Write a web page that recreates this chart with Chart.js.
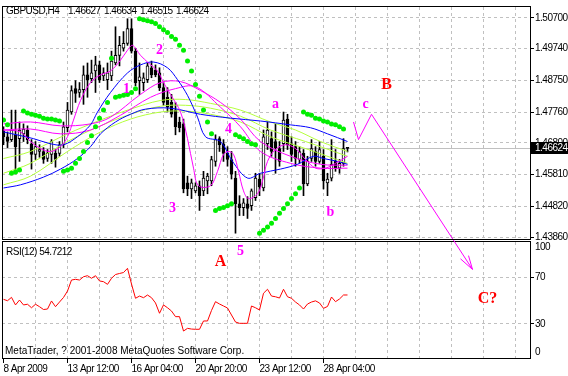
<!DOCTYPE html>
<html>
<head>
<meta charset="utf-8">
<script src="https://cdn.jsdelivr.net/npm/chart.js@4.4.1/dist/chart.umd.min.js"></script>
<style>
  html, body { margin: 0; padding: 0; background: #fff; }
  #wrap { position: relative; width: 568px; height: 376px; overflow: hidden; }
  canvas { position: absolute; left: 0; top: 0; }
</style>
</head>
<body>
<div id="wrap">
  <canvas id="rsiChart" width="568" height="376"></canvas>
  <canvas id="priceChart" width="568" height="376"></canvas>
</div>
<script>
// GBPUSD H4, one value per bar (bar 0 = 8 Apr 2009 20:00)
const symbolTitle = 'GBPUSD,H4';
const lastQuote = [1.46627, 1.46634, 1.46515, 1.46624];

const opens = [
  1.4717,1.4699,1.4690,1.4705,1.4693,1.4708,1.4720,1.4677,1.4644,1.4653,
  1.4653,1.4631,1.4644,1.4647,1.4647,1.4674,1.4727,1.4776,1.4849,1.4837,
  1.4846,1.4892,1.4880,1.4904,1.4923,1.4889,1.4877,1.4889,1.4929,1.4953,
  1.4975,1.4990,1.5036,1.4966,1.4874,1.4868,1.4877,1.4914,1.4907,1.4898,
  1.4852,1.4822,1.4806,1.4782,1.4745,1.4739,1.4555,1.4536,1.4530,1.4546,
  1.4530,1.4561,1.4561,1.4622,1.4693,1.4677,1.4647,1.4628,1.4570,1.4490,
  1.4478,1.4490,1.4484,1.4509,1.4567,1.4539,1.4677,1.4693,1.4684,1.4662,
  1.4677,1.4754,1.4677,1.4668,1.4628,1.4647,1.4552,1.4631,1.4653,1.4622,
  1.4638,1.4555,1.4570,1.4622,1.4601,1.4616,1.46627
];
const highs = [
  1.4730,1.4714,1.4782,1.4782,1.4745,1.4739,1.4733,1.4690,1.4684,1.4674,
  1.4665,1.4659,1.4690,1.4659,1.4684,1.4745,1.4806,1.4858,1.4874,1.4868,
  1.4920,1.4929,1.4938,1.4950,1.4935,1.4914,1.4929,1.4966,1.5042,1.5012,
  1.5027,1.5067,1.5067,1.4975,1.4929,1.4898,1.4929,1.4935,1.4923,1.4914,
  1.4868,1.4852,1.4831,1.4806,1.4760,1.4754,1.4576,1.4567,1.4555,1.4561,
  1.4591,1.4585,1.4638,1.4705,1.4699,1.4690,1.4668,1.4653,1.4591,1.4515,
  1.4506,1.4512,1.4536,1.4585,1.4585,1.4720,1.4745,1.4714,1.4739,1.4684,
  1.4776,1.4769,1.4699,1.4684,1.4668,1.4659,1.4638,1.4690,1.4668,1.4684,
  1.4659,1.4585,1.4690,1.4659,1.4628,1.4693,1.46634
];
const lows = [
  1.4674,1.4665,1.4684,1.4585,1.4622,1.4684,1.4677,1.4598,1.4628,1.4635,
  1.4616,1.4622,1.4616,1.4604,1.4638,1.4665,1.4714,1.4769,1.4806,1.4822,
  1.4800,1.4822,1.4868,1.4837,1.4868,1.4874,1.4846,1.4874,1.4923,1.4920,
  1.4966,1.4984,1.4960,1.4858,1.4831,1.4843,1.4868,1.4883,1.4886,1.4843,
  1.4797,1.4776,1.4760,1.4705,1.4714,1.4524,1.4515,1.4506,1.4524,1.4469,
  1.4515,1.4521,1.4546,1.4607,1.4653,1.4622,1.4607,1.4567,1.4398,1.4453,
  1.4453,1.4444,1.4469,1.4500,1.4515,1.4530,1.4659,1.4638,1.4585,1.4607,
  1.4653,1.4659,1.4622,1.4607,1.4616,1.4515,1.4546,1.4622,1.4607,1.4616,
  1.4536,1.4515,1.4561,1.4591,1.4585,1.4607,1.46515
];
const closes = [
  1.4699,1.4684,1.4720,1.4668,1.4720,1.4723,1.4690,1.4644,1.4668,1.4659,
  1.4628,1.4647,1.4684,1.4628,1.4674,1.4730,1.4782,1.4843,1.4834,1.4846,
  1.4892,1.4877,1.4898,1.4923,1.4877,1.4898,1.4898,1.4935,1.4953,1.4984,
  1.4990,1.5036,1.4966,1.4868,1.4886,1.4883,1.4920,1.4892,1.4892,1.4852,
  1.4806,1.4791,1.4769,1.4730,1.4727,1.4536,1.4536,1.4555,1.4546,1.4515,
  1.4570,1.4576,1.4628,1.4690,1.4674,1.4647,1.4628,1.4582,1.4490,1.4478,
  1.4493,1.4475,1.4530,1.4570,1.4542,1.4699,1.4720,1.4653,1.4665,1.4622,
  1.4751,1.4674,1.4644,1.4631,1.4653,1.4552,1.4622,1.4662,1.4622,1.4659,
  1.4561,1.4567,1.4613,1.4601,1.4616,1.4662,1.46624
];
const parabolicSar = [
  1.4751,1.4736,1.4585,1.4589,1.4595,1.4779,1.4773,1.4769,1.4766,1.4763,
  1.4757,1.4754,1.4754,1.4751,1.4748,1.4591,1.4595,1.4601,1.4616,1.4631,
  1.4653,1.4681,1.4702,1.4730,1.4757,1.4782,1.4806,1.4944,1.4822,1.4825,
  1.4828,1.4831,1.4837,1.4849,1.5067,1.5064,1.5061,1.5058,1.5052,1.5042,
  1.5033,1.5024,1.5012,1.5003,1.4984,1.4969,1.4935,1.4904,1.4862,1.4825,
  1.4782,1.4745,1.4708,1.4469,1.4475,1.4478,1.4484,1.4490,1.4705,1.4699,
  1.4693,1.4684,1.4677,1.4674,1.4398,1.4407,1.4417,1.4429,1.4444,1.4460,
  1.4475,1.4490,1.4506,1.4521,1.4539,1.4776,1.4769,1.4766,1.4757,1.4754,
  1.4748,1.4745,1.4739,1.4736,1.4730,1.4723,null
];
const rsi12 = [
  51.0,49.8,52.7,46.2,50.4,46.2,46.8,43.8,46.8,44.7,
  42.3,42.7,49.6,44.7,48.7,52.6,58.1,67.5,68.1,67.5,
  70.3,71.2,69.0,71.2,66.7,66.1,63.8,69.0,72.2,73.1,
  73.9,77.5,64.1,51.9,53.8,52.4,54.7,52.4,47.9,39.1,
  46.2,43.8,41.0,36.2,36.2,23.9,26.2,25.6,25.4,25.4,
  32.5,32.5,41.5,49.0,47.0,45.3,43.6,37.6,31.6,30.5,
  30.5,30.5,45.3,43.8,41.9,56.2,59.6,53.8,53.2,52.1,
  59.6,53.2,51.9,48.7,46.2,42.7,47.0,48.7,49.7,47.9,
  43.3,44.9,53.0,49.0,51.3,54.7,54.7212
];

// moving averages: [bar, price]
const maFastMagenta = [[0,1.4720],[4.25,1.4714],[6.75,1.4684],[9.25,1.4662],[11.75,1.4653],[14.25,1.4668],[16,1.4699],[17.5,1.4751],[19.25,1.4812],[21.75,1.4868],[24.25,1.4892],[26.75,1.4904],[29.25,1.4938],[31,1.4969],[32.25,1.4984],[34.25,1.4953],[36.25,1.4929],[38.5,1.4904],[40,1.4868],[41.75,1.4831],[44.25,1.4776],[46,1.4693],[47.5,1.4601],[48.75,1.4546],[51.75,1.4546],[53.5,1.4591],[55,1.4644],[56.25,1.4653],[57.5,1.4644],[58.75,1.4591],[60,1.4530],[61.25,1.4506],[63.5,1.4521],[64.75,1.4561],[66,1.4622],[68,1.4659],[70.5,1.4674],[73,1.4662],[75.5,1.4628],[78,1.4601],[80.5,1.4601],[83,1.4616],[86,1.4638]];
const maFastBlue = [[0,1.4714],[7.5,1.4693],[11.75,1.4677],[15,1.4674],[18.5,1.4699],[21.75,1.4736],[23.5,1.4776],[26.75,1.4837],[31,1.4898],[34.25,1.4923],[37.5,1.4932],[41,1.4914],[43.5,1.4877],[46,1.4828],[48.5,1.4760],[50.5,1.4699],[54.25,1.4684],[57.25,1.4622],[61,1.4570],[64.25,1.4585],[69.25,1.4598],[73.5,1.4613],[77.5,1.4638],[80,1.4631],[83.5,1.4622],[86,1.4613]];
const maSlowBlue = [[0,1.4539],[4.25,1.4549],[10,1.4573],[14.25,1.4598],[18.5,1.4631],[21.75,1.4668],[24.25,1.4708],[28,1.4745],[31.75,1.4769],[35.5,1.4785],[41.75,1.4788],[49.25,1.4769],[56.75,1.4757],[64.25,1.4748],[71.75,1.4736],[76.75,1.4727],[81,1.4708],[86,1.4684]];
const maSlowMagenta1 = [[0,1.4739],[6.75,1.4745],[14.25,1.4733],[21.75,1.4739],[26.75,1.4760],[34.25,1.4831],[39.25,1.4868],[44.25,1.4871],[49.25,1.4843],[54.25,1.4806],[59.25,1.4754],[64.25,1.4684],[71.75,1.4638],[79.25,1.4613],[86,1.4610]];
const maSlowMagenta2 = [[0,1.4720],[6.75,1.4723],[14.25,1.4708],[21.75,1.4720],[29.25,1.4766],[36.75,1.4822],[43,1.4849],[48,1.4855],[54.25,1.4791],[59.25,1.4730],[64.25,1.4653],[71.75,1.4616],[79.25,1.4601],[86,1.4601]];
const maLime1 = [[0,1.4631],[6.75,1.4653],[16,1.4708],[24.25,1.4751],[31.75,1.4785],[39.25,1.4812],[45.5,1.4815],[51.75,1.4803],[59.25,1.4782],[66.75,1.4745],[73,1.4720],[79.25,1.4684],[86,1.4653]];
const maLime2 = [[0,1.4585],[6.75,1.4616],[16,1.4684],[24.25,1.4733],[31.75,1.4769],[39.25,1.4794],[45.5,1.4797],[51.75,1.4788],[59.25,1.4763],[66.75,1.4720],[75.5,1.4684],[86,1.4638]];
const maLime3 = [[0,1.4549],[6.75,1.4576],[16,1.4653],[24.25,1.4714],[31.75,1.4754],[39.25,1.4776],[45.5,1.4779],[51.75,1.4769],[59.25,1.4745],[66.75,1.4699],[75.5,1.4662],[86,1.4616]];

// hand-drawn wave projection: [bar, price]
const zigzag = [[87.5,1.4745],[88.75,1.4690],[92,1.4769],[117.25,1.4285]];
const arrowHead = [[114.25,1.4318],[117.25,1.4285],[116.25,1.4328]];
const waveCounts = [['1',30.75,1.4846],['2',39,1.4969],['3',42.25,1.4475],['4',56.25,1.4723],['5',59.25,1.4340],['a',68,1.4800],['b',81.75,1.4463],['c',90.5,1.4800]];
const waveDegree = [['A',54.25,1.4309],['B',95.75,1.4862],['C?',121,1.4193]];

const priceTicks = [1.50700, 1.49740, 1.48750, 1.47760, 1.46800, 1.45810, 1.44820, 1.43860];
const rsiTicks = [30, 70];
const timeTickBars = [0, 16, 32, 48, 64, 80];
const timeTickText = ['8 Apr 2009', '13 Apr 12:00', '16 Apr 04:00', '20 Apr 20:00', '23 Apr 12:00', '28 Apr 04:00'];

const FONT = "'Liberation Sans', Arial, sans-serif";
const GRID = '#c0c0c0';
const TIGHT = '-0.5px';

const bars = closes.map((c, i) => i);
const pts = arr => arr.map(p => ({x: p[0], y: p[1]}));
const maLine = (arr, color, order) => ({
  type: 'line', data: pts(arr), borderColor: color, borderWidth: 1,
  pointRadius: 0, tension: 0.35, order
});

const xScale = (showLabels) => ({
  type: 'linear', min: -0.375, max: 131.625, offset: false,
  afterBuildTicks: s => { s.ticks = []; for (let v = 0; v <= 128; v += 8) s.ticks.push({value: v}); },
  afterFit: showLabels ? (s => { s.height = 17; }) : (s => { s.height = 0; }),
  ticks: {
    display: showLabels, autoSkip: false, maxRotation: 0, minRotation: 0, align: 'start', padding: 0,
    color: '#000', font: {family: FONT, size: 10},
    callback: v => { const k = timeTickBars.indexOf(v); return k >= 0 ? timeTickText[k] : ''; }
  },
  grid: {
    offset: false,
    color: c => (c.tick && c.tick.value === 0) ? 'rgba(0,0,0,0)' : GRID,
    drawTicks: showLabels, tickLength: 4, tickWidth: 1,
    tickColor: c => (c.tick && timeTickBars.indexOf(c.tick.value) >= 0) ? '#000' : 'rgba(0,0,0,0)'
  },
  border: {display: false, dash: [3, 3]}
});

// narrow the axis text a little, like the terminal font
const tightText = {
  id: 'tightText',
  beforeDraw(chart) { chart.ctx.letterSpacing = TIGHT; }
};

const priceDecor = {
  id: 'priceDecor',
  beforeDatasetsDraw(chart) {
    const {ctx, chartArea: a, scales: {y}} = chart;
    const py = Math.round(y.getPixelForValue(lastQuote[3])) + 0.5;
    ctx.save();
    ctx.strokeStyle = GRID; ctx.lineWidth = 1;
    ctx.beginPath(); ctx.moveTo(a.left, py); ctx.lineTo(a.right, py); ctx.stroke();
    ctx.restore();
  },
  afterDraw(chart) {
    const {ctx, chartArea: a, scales: {x, y}} = chart;
    ctx.save();
    ctx.strokeStyle = '#000'; ctx.lineWidth = 1;
    ctx.strokeRect(a.left + 0.5, a.top - 0.5, a.right - a.left, a.bottom - a.top + 1);

    ctx.letterSpacing = TIGHT;
    ctx.fillStyle = '#000'; ctx.textBaseline = 'middle'; ctx.textAlign = 'left';
    ctx.font = '10px ' + FONT;
    ctx.fillText(symbolTitle, 6, 11);
    lastQuote.forEach((v, k) => ctx.fillText(v.toFixed(5), 68 + k * 36, 11));

    // current price marker on the axis
    const py = Math.round(y.getPixelForValue(lastQuote[3]));
    ctx.fillRect(a.right + 1, py - 6, 37, 12);
    ctx.fillStyle = '#fff';
    ctx.fillText(lastQuote[3].toFixed(5), a.right + 5, py);

    ctx.letterSpacing = '0px';
    ctx.textAlign = 'center';
    ctx.fillStyle = '#ff00ff';
    ctx.font = 'bold 14px "Liberation Serif", serif';
    waveCounts.forEach(w => ctx.fillText(w[0], x.getPixelForValue(w[1]), y.getPixelForValue(w[2])));
    ctx.fillStyle = '#ff0000';
    ctx.font = 'bold 16px "Liberation Serif", serif';
    waveDegree.forEach(w => ctx.fillText(w[0], x.getPixelForValue(w[1]), y.getPixelForValue(w[2])));
    ctx.restore();
  }
};

const rsiDecor = {
  id: 'rsiDecor',
  afterDraw(chart) {
    const {ctx, chartArea: a} = chart;
    ctx.save();
    ctx.strokeStyle = '#000'; ctx.lineWidth = 1;
    ctx.strokeRect(a.left + 0.5, a.top - 0.5, a.right - a.left, a.bottom - a.top);
    ctx.fillStyle = '#000'; ctx.textBaseline = 'middle'; ctx.textAlign = 'left';
    ctx.font = '10px ' + FONT;
    ctx.letterSpacing = TIGHT;
    ctx.fillText('RSI(12) ' + rsi12[rsi12.length - 1].toFixed(4), 6, a.top + 10);
    ctx.fillText('100', a.right + 5, a.top + 5);
    ctx.fillText('0', a.right + 5, a.bottom - 7);
    ctx.letterSpacing = '0px';
    ctx.fillText('MetaTrader, ? 2001-2008 MetaQuotes Software Corp.', 5, a.bottom - 8);
    ctx.restore();
  }
};

new Chart(document.getElementById('rsiChart'), {
  type: 'line',
  data: {
    datasets: [{
      data: rsi12.map((v, i) => ({x: i, y: v})),
      borderColor: '#ff0000', borderWidth: 1, pointRadius: 0, tension: 0
    }]
  },
  options: {
    responsive: false, animation: false, devicePixelRatio: 1,
    layout: {padding: {left: 2, top: 242, right: 0, bottom: 0}, autoPadding: false},
    plugins: {legend: {display: false}, tooltip: {enabled: false}},
    scales: {
      x: xScale(true),
      y: {
        position: 'right', min: 0, max: 100,
        afterBuildTicks: s => { s.ticks = rsiTicks.map(v => ({value: v})); },
        afterFit: s => { s.width = 38; },
        ticks: {color: '#000', padding: 1, font: {family: FONT, size: 10}},
        grid: {color: GRID, tickColor: '#000', tickLength: 4},
        border: {display: false, dash: [3, 3]}
      }
    }
  },
  plugins: [tightText, rsiDecor]
});

new Chart(document.getElementById('priceChart'), {
  type: 'bar',
  data: {
    datasets: [
      {type: 'line', data: pts(zigzag), borderColor: '#ff00ff', borderWidth: 1, pointRadius: 0, tension: 0, clip: false, order: 0},
      {type: 'line', data: pts(arrowHead), borderColor: '#ff00ff', borderWidth: 1, pointRadius: 0, tension: 0, clip: false, order: 0},
      {type: 'line', data: parabolicSar.map((v, i) => ({x: i, y: v})), showLine: false,
       pointRadius: 2.5, pointBackgroundColor: '#00ee00', pointBorderColor: '#00ee00', pointBorderWidth: 0, order: 1},
      maLine(maFastMagenta, '#ff00ff', 2),
      maLine(maFastBlue, '#0000ff', 3),
      maLine(maSlowBlue, '#0000ff', 3),
      maLine(maSlowMagenta1, '#ff00ff', 4),
      maLine(maSlowMagenta2, '#ff00ff', 4),
      maLine(maLime1, '#b4ff3c', 4),
      maLine(maLime2, '#b4ff3c', 4),
      maLine(maLime3, '#b4ff3c', 4),
      {type: 'bar', data: bars.map(i => ({x: i, y: [opens[i], closes[i]]})),
       backgroundColor: bars.map(i => closes[i] > opens[i] ? '#ffffff' : '#000000'),
       borderColor: '#000', borderWidth: 1, borderSkipped: false,
       barThickness: 3, grouped: false, minBarLength: 1, order: 5},
      {type: 'bar', data: bars.map(i => ({x: i, y: [lows[i], highs[i]]})),
       backgroundColor: '#000', barThickness: 1, grouped: false, order: 6}
    ]
  },
  options: {
    responsive: false, animation: false, devicePixelRatio: 1,
    layout: {padding: {left: 2, top: 3, right: 0, bottom: 137}, autoPadding: false},
    plugins: {legend: {display: false}, tooltip: {enabled: false}},
    scales: {
      x: xScale(false),
      y: {
        position: 'right', min: 1.43799, max: 1.51037, beginAtZero: false,
        afterBuildTicks: s => { s.ticks = priceTicks.map(v => ({value: v})); },
        afterFit: s => { s.width = 38; },
        ticks: {color: '#000', padding: 1, font: {family: FONT, size: 10}, callback: v => v.toFixed(5)},
        grid: {color: GRID, tickColor: '#000', tickLength: 4},
        border: {display: false, dash: [3, 3]}
      }
    }
  },
  plugins: [tightText, priceDecor]
});
</script>
</body>
</html>
